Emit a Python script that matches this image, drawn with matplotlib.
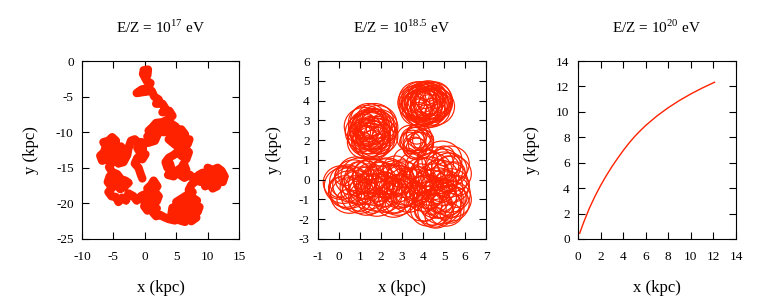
import matplotlib
matplotlib.use("Agg")
import matplotlib.pyplot as plt
from matplotlib.patches import Circle

plt.rcParams['font.family'] = ['Liberation Serif', 'DejaVu Serif']
plt.rcParams['mathtext.fontset'] = 'custom'
plt.rcParams['mathtext.rm'] = 'Liberation Serif'
plt.rcParams['axes.unicode_minus'] = False

RED = '#ff2200'

titles = ["E/Z = 10$^{\\mathrm{17}}$ eV", "E/Z = 10$^{\\mathrm{18.5}}$ eV", "E/Z = 10$^{\\mathrm{20}}$ eV"]

# panel 1: diffusive path (waypoints)
walk = [(-0.2, -1.3), (0.5, -1.2), (0.4, -2.0), (-0.3, -1.8), (0.3, -2.8), (0.9, -3.1), (0.5, -3.8),
        (-0.5, -4.0), (-1.3, -4.5), (0.2, -4.3), (1.1, -4.2), (1.5, -5.0), (2.2, -5.4), (1.8, -6.0),
        (2.8, -6.0), (3.3, -6.7), (2.8, -7.2), (3.9, -7.0), (4.4, -7.7), (3.7, -8.2),
        (2.8, -8.6), (1.8, -8.7), (1.2, -9.3), (0.6, -9.8), (1.5, -10.0), (0.4, -10.6), (1.2, -11.0),
        (0.5, -11.5), (1.6, -11.2), (2.0, -10.4), (2.6, -9.6), (3.2, -9.0), (3.0, -10.0), (3.9, -9.8),
        (4.2, -8.8), (4.9, -9.2), (5.4, -10.2), (5.8, -9.6), (6.4, -10.3), (6.0, -11.0), (7.1, -11.0),
        (6.8, -11.7), (5.8, -11.6), (5.0, -11.0), (4.4, -10.4), (3.8, -11.0), (4.6, -11.6), (5.5, -12.2),
        (6.3, -12.2), (7.0, -12.8), (6.6, -13.8), (5.8, -13.3), (5.3, -12.7), (4.6, -13.2), (3.8, -13.6),
        (3.3, -14.2), (3.6, -15.0), (4.0, -14.4), (4.3, -15.4), (3.7, -16.0), (4.6, -16.2), (5.1, -15.4),
        (5.8, -15.0), (6.2, -14.4), (6.6, -15.3), (5.6, -16.0), (6.3, -16.4),
        (7.2, -16.0), (7.8, -16.6), (8.6, -16.0), (9.2, -15.7), (9.6, -16.4), (10.2, -15.6), (10.0, -15.0),
        (10.8, -15.3), (11.6, -15.0), (12.2, -15.4), (12.7, -16.2), (12.4, -17.0), (11.8, -16.6),
        (11.5, -17.6), (10.8, -17.9), (10.3, -17.2), (9.6, -17.6), (10.6, -16.6), (11.3, -16.2),
        (9.8, -16.9), (9.0, -17.0), (8.2, -16.8), (7.4, -17.4),
        (7.0, -18.1), (7.6, -18.4), (6.6, -18.9), (5.7, -19.4), (5.0, -19.8), (5.8, -20.1), (6.8, -19.6),
        (7.6, -19.2), (8.3, -19.6), (7.6, -20.3), (8.7, -20.5), (8.4, -21.2), (7.6, -21.2), (8.2, -22.0),
        (7.4, -22.5), (6.8, -21.8), (6.4, -22.6), (5.6, -22.4), (6.1, -21.2), (6.9, -20.7), (5.5, -20.8),
        (4.8, -21.4), (4.4, -20.6), (4.2, -21.8), (4.8, -22.4), (3.8, -22.2),
        (3.0, -21.9), (2.4, -21.6), (1.8, -21.8), (1.3, -21.3), (1.9, -20.7), (1.0, -20.6), (0.4, -21.0),
        (-0.1, -20.4), (0.6, -19.9), (-0.4, -19.5), (0.3, -19.0), (1.2, -19.4), (1.9, -19.7), (2.2, -19.0),
        (1.6, -18.4), (0.8, -18.6), (0.4, -17.9), (1.0, -17.4), (1.4, -16.8), (2.0, -17.6), (1.6, -18.0),
        (0.5, -18.6), (-0.5, -18.9), (-1.3, -19.6), (-1.8, -19.0), (-2.6, -18.6), (-3.0, -19.6),
        (-3.6, -19.2), (-4.2, -19.8), (-4.6, -19.1), (-5.3, -19.0), (-5.8, -18.4), (-5.2, -17.8),
        (-5.9, -17.0), (-5.6, -16.2), (-4.9, -16.6), (-4.5, -17.4), (-3.9, -18.0), (-3.2, -17.6),
        (-2.6, -17.1), (-3.1, -16.8), (-3.8, -16.6), (-4.4, -15.9), (-5.2, -15.6),
        (-5.7, -14.9), (-5.2, -14.2), (-6.0, -13.8), (-6.8, -14.0), (-7.1, -13.3), (-6.5, -12.8),
        (-6.2, -12.0), (-6.6, -11.4), (-5.8, -11.2), (-5.2, -10.7), (-4.6, -11.2), (-5.0, -12.2),
        (-5.6, -13.0), (-4.6, -13.6), (-4.0, -12.8), (-3.8, -12.0), (-3.3, -12.7), (-3.6, -13.6),
        (-4.2, -14.4), (-3.4, -14.2), (-2.8, -13.2), (-2.6, -12.2), (-2.2, -11.2), (-1.6, -11.0),
        (-1.0, -11.5), (-0.5, -11.4), (-0.3, -12.3), (-1.2, -12.2), (-0.7, -13.0), (0.1, -13.1),
        (-0.4, -13.8), (-1.2, -13.6), (-1.6, -14.4), (-1.0, -15.0), (-0.7, -15.8), (-0.4, -16.5)]
walk_x = [p[0] for p in walk]
walk_y = [p[1] for p in walk]

# panel 2: gyration circles per cluster (centre x, centre y, radius)
top_right_x = [3.7, 3.8, 3.9, 4.0, 4.1, 4.2, 4.3, 4.4, 4.5, 4.55, 3.75, 3.85, 3.95, 4.05, 4.15, 4.25,
               4.35, 4.45, 4.5, 3.9, 4.1, 4.3, 3.65, 4.6]
top_right_y = [3.8, 3.6, 4.0, 3.7, 4.1, 3.65, 3.95, 3.75, 4.0, 3.7, 4.05, 3.85, 3.65, 3.9, 3.75, 4.15,
               3.6, 3.85, 4.1, 3.95, 3.55, 3.8, 3.9, 3.85]
top_right_r = [0.85, 0.9, 0.95, 0.9, 0.85, 0.95, 0.9, 0.85, 0.9, 0.95, 0.9, 0.85, 0.95, 0.9, 0.9, 0.85,
               0.95, 0.9, 0.85, 0.9, 0.95, 0.9, 0.85, 0.8]
top_right_inner_x = [3.6, 3.8, 4.2, 4.6, 4.8, 4.6, 4.2, 3.8, 4.0, 4.3, 4.1, 4.4, 3.7, 4.5, 3.9]
top_right_inner_y = [3.9, 4.3, 4.45, 4.3, 3.9, 3.4, 3.3, 3.4, 3.9, 3.8, 4.1, 3.6, 3.7, 4.1, 3.6]
top_left_x = [1.2, 1.3, 1.4, 1.5, 1.6, 1.7, 1.8, 1.9, 1.25, 1.35, 1.45, 1.55, 1.65, 1.75, 1.85, 1.2,
              1.5, 1.8, 1.4, 1.7, 1.3, 1.6, 1.9, 1.5]
top_left_y = [2.4, 2.9, 2.1, 2.7, 2.3, 2.95, 2.5, 2.2, 1.9, 2.6, 2.45, 1.95, 2.75, 2.05, 2.85, 2.7,
              2.15, 2.3, 3.0, 2.6, 2.2, 1.85, 2.65, 2.5]
top_left_r = [0.9, 0.85, 0.95, 0.9, 0.85, 0.9, 0.95, 0.9, 0.85, 0.9, 0.95, 0.9, 0.85, 0.9, 0.9, 0.95,
              0.85, 0.9, 0.85, 0.95, 0.9, 0.85, 0.9, 0.95]
top_left_inner_x = [1.0, 1.2, 1.6, 2.0, 2.1, 1.9, 1.5, 1.1, 1.4, 1.7, 1.5, 1.3, 1.8, 1.6, 1.2]
top_left_inner_y = [2.4, 2.9, 3.1, 2.8, 2.3, 1.8, 1.6, 1.9, 2.4, 2.3, 2.7, 2.2, 2.6, 2.0, 2.6]
middle_x = [3.5, 3.7, 3.9, 3.6, 3.8, 3.4, 3.75, 3.55, 3.95, 3.0, 2.7, 3.5, 3.2, 2.9]
middle_y = [1.9, 2.0, 1.8, 1.6, 2.2, 2.1, 1.7, 2.05, 2.0, 0.3, 0.6, 0.7, 1.0, 0.0]
middle_r = [0.6, 0.65, 0.6, 0.55, 0.6, 0.65, 0.7, 0.6, 0.55, 0.7, 0.6, 0.65, 0.6, 0.7]
middle_inner_x = [3.4, 3.7, 4.0, 3.7]
middle_inner_y = [1.9, 2.3, 2.0, 1.6]
low_left_x = [0.2, 0.4, 0.5, 0.7, 0.9, 1.0, 1.2, 1.4, 1.5, 1.7, 1.8, 2.0, 2.2, 2.3, 2.5, 2.7, 2.9, 3.1,
              3.3, 1.1, 1.9, 0.8, 2.6, 3.5, 0.3, 0.6, 1.3, 1.6, 2.1, 2.4, 2.8, 3.2, 0.1, 1.0, 1.8, 2.6,
              0.5, 1.4, 2.2, 3.0]
low_left_y = [-0.3, -0.1, -0.5, 0.1, -0.4, -0.8, 0.0, -0.6, 0.2, -0.4, -0.9, 0.0, -0.5, 0.2, -0.8, -0.2,
              -0.6, 0.0, -0.8, -0.3, -0.2, 0.3, -1.0, -0.4, -0.6, -0.25, -0.95, 0.1, -0.75, -0.1, -0.9,
              -0.35, -0.15, 0.2, -0.65, 0.1, -0.8, -0.3, 0.15, -0.55]
low_left_r = [0.9, 0.85, 0.95, 0.9, 0.85, 0.9, 0.95, 0.9, 0.85, 0.9, 0.95, 0.9, 0.85, 0.9, 0.9, 0.95,
              0.85, 0.9, 0.85, 0.95, 0.9, 0.85, 0.9, 0.95, 0.8, 0.9, 0.85, 0.95, 0.9, 0.85, 0.9, 0.95,
              0.85, 0.9, 0.95, 0.85, 0.9, 0.95, 0.9, 0.85]
low_left_inner_x = [0.0, 0.3, 0.4, 0.8, 0.9, 1.0, 1.3, 1.4, 1.6, 1.8, 2.0, 2.1, 2.4, 2.5, 2.7, 2.9,
                    3.1, 3.3, 3.6, 1.2, 2.2]
low_left_inner_y = [-0.4, 0.2, -1.0, -0.3, 0.4, -1.1, -0.5, 0.3, -1.2, -0.2, 0.4, -0.9, -0.4, 0.3,
                    -1.2, -0.3, -0.9, 0.1, -0.6, -0.2, -0.1]
low_right_x = [4.0, 4.2, 4.3, 4.5, 4.6, 4.7, 4.9, 5.0, 5.1, 5.2, 5.3, 5.4, 4.4, 4.8, 5.0, 4.1, 3.8, 5.3,
               4.6, 4.9, 5.3, 4.25, 4.55, 4.85, 5.15, 5.35, 4.05, 4.45, 4.75, 5.05, 3.95, 5.25, 4.65,
               4.35, 4.95, 5.4]
low_right_y = [-1.2, -0.6, 0.2, -1.4, 0.8, -0.3, -1.0, 0.5, -1.5, 0.0, -0.7, 0.3, -0.9, 0.1, -0.4, 0.6,
               -0.2, -1.2, -1.6, 1.0, 0.8, -1.5, -0.1, -1.3, -0.9, -0.3, -0.7, 0.4, -0.8, -1.1, 0.2,
               0.5, -1.0, -0.4, 0.7, -1.0]
low_right_r = [0.9, 0.85, 0.95, 0.9, 0.85, 0.9, 0.95, 0.9, 0.85, 0.9, 0.95, 0.9, 0.85, 0.9, 0.9, 0.95,
               0.85, 0.9, 0.85, 0.95, 0.9, 0.85, 0.9, 0.95, 0.9, 0.85, 0.9, 0.95, 0.85, 0.9, 0.9, 0.85,
               0.95, 0.9, 0.85, 0.9]
low_right_inner_x = [3.7, 3.9, 4.1, 4.2, 4.4, 4.6, 4.7, 4.9, 5.0, 5.1, 5.3, 5.5, 5.6, 5.7, 4.3, 4.8,
                     5.2, 4.0]
low_right_inner_y = [-0.8, 0.3, -1.6, 1.0, -0.3, -1.9, 0.5, -1.2, 1.2, -0.1, -1.7, 0.4, -0.9, -0.3,
                     -1.0, -0.6, 0.7, -0.3]
inner_r = 0.5

# panel 3: nearly straight trajectory
line_x = [0.15, 0.5, 1.0, 1.5, 2.0, 2.5, 3.0, 3.5, 4.0, 4.5, 5.0, 5.5, 6.0, 7.0, 8.0, 9.0, 10.0, 11.0,
          12.1]
line_y = [0.45, 1.3, 2.4, 3.35, 4.2, 4.97, 5.68, 6.33, 6.95, 7.52, 8.04, 8.5, 8.93, 9.68, 10.33, 10.9,
          11.41, 11.87, 12.33]

fig = plt.figure(figsize=(7.63, 3.05), dpi=100)
ax1 = fig.add_axes([0.1075, 0.2164, 0.2058, 0.5836])
ax2 = fig.add_axes([0.4168, 0.2164, 0.2202, 0.5836])
ax3 = fig.add_axes([0.7575, 0.2164, 0.2071, 0.5836])

ax1.plot(walk_x, walk_y, color=RED, lw=6, solid_joinstyle='round', solid_capstyle='round')
ax1.plot(walk_x, walk_y, color=RED, lw=1, marker='+', ms=5, mew=0.8, ls='none')
ax1.set_xlim(-10, 15)
ax1.set_ylim(-25, 0)
ax1.set_xticks(range(-10, 16, 5))
ax1.set_yticks(range(-25, 1, 5))

clusters = [(top_right_x, top_right_y, top_right_r), (top_left_x, top_left_y, top_left_r),
            (middle_x, middle_y, middle_r), (low_left_x, low_left_y, low_left_r),
            (low_right_x, low_right_y, low_right_r)]
for cx, cy, cr in clusters:
    for x, y, r in zip(cx, cy, cr):
        ax2.add_patch(Circle((x, y), r, fill=False, ec=RED, lw=0.85))
inner = [(top_right_inner_x, top_right_inner_y), (top_left_inner_x, top_left_inner_y),
         (middle_inner_x, middle_inner_y), (low_left_inner_x, low_left_inner_y),
         (low_right_inner_x, low_right_inner_y)]
for cx, cy in inner:
    for x, y in zip(cx, cy):
        ax2.add_patch(Circle((x, y), inner_r, fill=False, ec=RED, lw=0.85))
ax2.set_xlim(-1, 7)
ax2.set_ylim(-3, 6)
ax2.set_xticks(range(-1, 8))
ax2.set_yticks(range(-3, 7))

ax3.plot(line_x, line_y, color=RED, lw=1)
ax3.set_xlim(0, 14)
ax3.set_ylim(0, 14)
ax3.set_xticks(range(0, 15, 2))
ax3.set_yticks(range(0, 15, 2))

for ax, t in zip([ax1, ax2, ax3], titles):
    ax.set_title(t, fontsize=11, pad=20)
    ax.set_xlabel('x (kpc)', fontsize=12, labelpad=12)
    ax.set_ylabel('y (kpc)', fontsize=12, labelpad=12)
    ax.tick_params(direction='in', top=True, right=True, length=5, labelsize=9.5)
    ax.tick_params(axis='x', pad=9)
    ax.tick_params(axis='y', pad=6)

fig.savefig('out.png', dpi=100)
